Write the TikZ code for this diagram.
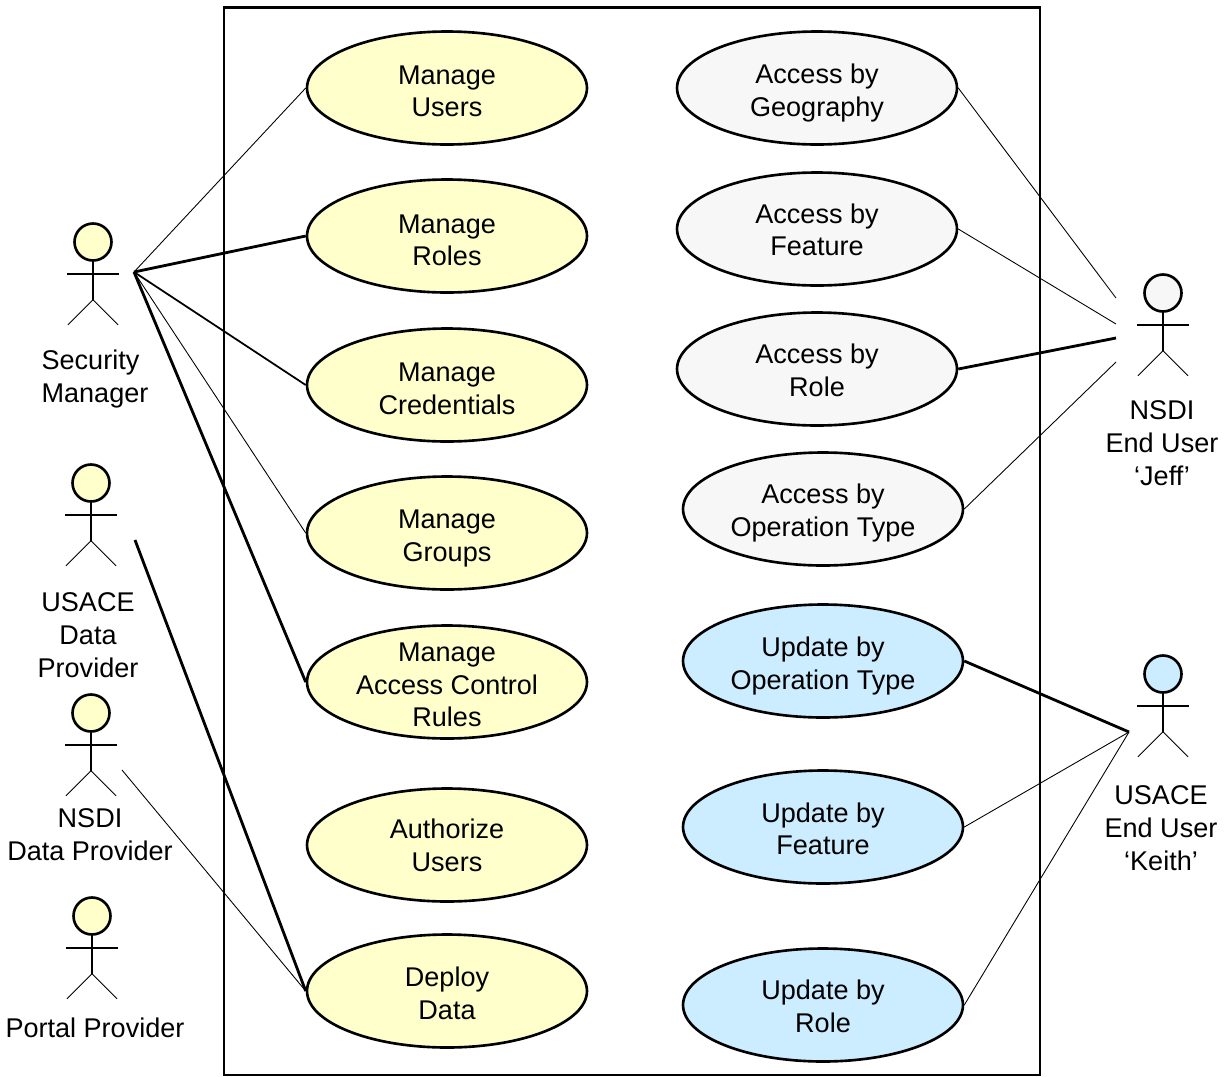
\documentclass[tikz,border=0pt]{standalone}
\usepackage{fontspec}
\setmainfont{Liberation Sans}
\usetikzlibrary{shapes.geometric}
\definecolor{caseyellow}{RGB}{255,255,204}
\definecolor{casegray}{RGB}{247,247,247}
\definecolor{caseblue}{RGB}{204,236,255}
\tikzset{
  usecase/.style={draw,ellipse,line width=1.5pt,minimum width=5.6cm,minimum height=2.26cm,
    inner sep=0pt,align=center,font=\fontsize{15.4}{18.7}\selectfont},
  head/.style={draw,circle,line width=1.5pt,minimum size=0.74cm,inner sep=0pt},
  actorname/.style={align=center,font=\fontsize{15.4}{18.7}\selectfont},
  thinlink/.style={line width=0.5pt},
  midlink/.style={line width=1pt},
  thicklink/.style={line width=1.6pt},
}
% taller first line, pushes the text of a use case down
\newcommand{\down}[1]{\rule{0pt}{#1pt}}
% one stick figure: head name, x, y of the head, fill
\newcommand{\stickman}[4]{
  \node[head,fill=#4] (#1) at (#2,#3) {};
  \draw[thicklink] (#1.south) -- ++(0,38) coordinate (#1hip);
  \draw[thicklink] (#2-26,#3+32) -- (#2+26,#3+32);
  \draw[thinlink] (#1hip) -- ++(-25,25);
  \draw[thinlink] (#1hip) -- ++(25,25);
}
\begin{document}
\begin{tikzpicture}[x=0.02cm,y=-0.02cm]
  \useasboundingbox (0,0) rectangle (1228,1076);
  \node[draw,line width=1.6pt,minimum width=16.32cm,minimum height=21.36cm,inner sep=0pt] (system) at (632,541) {};

  \begin{scope}[every node/.append style={usecase,fill=caseyellow}]
    \node (users) at (447,88) {\down{14.4}Manage\\Users};
    \node (roles) at (447,236) {\down{15.5}Manage\\Roles};
    \node (credentials) at (447,385) {\down{15}Manage\\Credentials};
    \node (groups) at (447,533) {\down{17.2}Manage\\Groups};
    \node[inner ysep=-0.25cm] (rules) at (447,682) {\down{13.8}Manage\\Access Control\\Rules};
    \node (authorize) at (447,845) {Authorize\\Users};
    \node (deploy) at (447,991) {\down{13.8}Deploy\\Data};
  \end{scope}
  \begin{scope}[every node/.append style={usecase,fill=casegray}]
    \node (geography) at (817,88) {\down{16.7}Access by\\Geography};
    \node (feature) at (817,229) {\down{12.1}Access by\\Feature};
    \node (role) at (817,369) {\down{12.7}Access by\\Role};
    \node (operation) at (823,509) {\down{15.5}Access by\\Operation Type};
  \end{scope}
  \begin{scope}[every node/.append style={usecase,fill=caseblue}]
    \node (updateop) at (823,661) {\down{17.2}Update by\\Operation Type};
    \node (updatefeature) at (823,827) {\down{13.3}Update by\\Feature};
    \node (updaterole) at (823,1005) {\down{12.7}Update by\\Role};
  \end{scope}

  \stickman{security}{93}{242}{caseyellow}
  \stickman{usace}{91}{483}{caseyellow}
  \stickman{nsdi}{91}{713}{caseyellow}
  \stickman{portal}{92}{916}{caseyellow}
  \stickman{jeff}{1163}{293}{casegray}
  \stickman{keith}{1163}{674}{caseblue}

  \node[actorname,align=left] (securityname) at (95,379) {Security\\Manager};
  \node[actorname] (usacename) at (88,635) {USACE\\Data\\Provider};
  \node[actorname] (nsdiname) at (90,835) {NSDI\\Data Provider};
  \node[actorname] (portalname) at (95,1028) {Portal Provider};
  \node[actorname] (jeffname) at (1162,443) {NSDI\\End User\\‘Jeff’};
  \node[actorname] (keithname) at (1161,828) {USACE\\End User\\‘Keith’};

  \coordinate (securityend) at (134,272);
  \coordinate (usaceend) at (135,540);
  \coordinate (nsdiend) at (122,770);
  \coordinate (jeffgeo) at (1116,298);
  \coordinate (jefffeature) at (1116,324);
  \coordinate (jeffrole) at (1116,338);
  \coordinate (jeffoperation) at (1116,362);
  \coordinate (keithend) at (1129,732);

  \draw[thinlink] (securityend) to (users.west);
  \draw[thicklink] (securityend) to (roles.west);
  \draw[midlink] (securityend) to (credentials.west);
  \draw[thinlink] (securityend) to (groups.west);
  \draw[thicklink] (securityend) to (rules.west);
  \draw[thicklink] (usaceend) to (deploy.west);
  \draw[thinlink] (nsdiend) to (deploy.west);
  \draw[thinlink] (jeffgeo) to (geography.east);
  \draw[thinlink] (jefffeature) to (feature.east);
  \draw[thicklink] (jeffrole) to (role.east);
  \draw[thinlink] (jeffoperation) to (operation.east);
  \draw[thicklink] (keithend) to (updateop.east);
  \draw[thinlink] (keithend) to (updatefeature.east);
  \draw[thinlink] (keithend) to (updaterole.east);
\end{tikzpicture}
\end{document}
